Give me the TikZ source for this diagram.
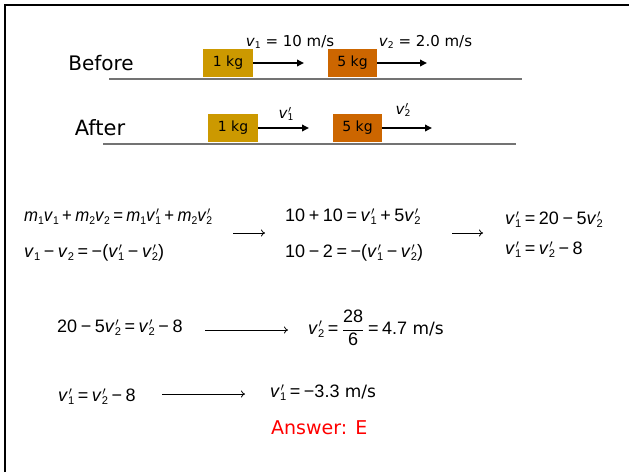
\documentclass[tikz,border=0pt]{standalone}
\usepackage{fontspec}
\setmainfont{DejaVu Sans}
\newfontfamily\eqfont{Liberation Sans}
\usetikzlibrary{arrows.meta}
\definecolor{goldbox}{RGB}{204,153,0}
\definecolor{orangebox}{RGB}{204,102,0}
\definecolor{floorgray}{RGB}{115,115,115}
\makeatletter
\newcommand{\subs}[1]{\raisebox{-0.32ex}{\dimen0=\f@size pt\dimen0=0.62\dimen0
  \fontsize{\strip@pt\dimen0}{\strip@pt\dimen0}\selectfont #1}}
\makeatother
\newcommand{\sv}[2]{\textit{#1}\subs{#2}}
\newcommand{\pv}[2]{\textit{#1}\rlap{\kern0.6pt$^{\prime}$}\subs{#2}}
\newcommand{\Pl}{\hspace{0.2em}+\hspace{0.2em}}
\newcommand{\Mi}{\hspace{0.2em}−\hspace{0.2em}}
\newcommand{\Eq}{\hspace{0.2em}=\hspace{0.2em}}
\newcommand{\unitms}{{\normalfont\fontsize{17}{20}\selectfont\ m/s}}
\begin{document}
\begin{tikzpicture}[x=1pt,y=-1pt,
  mass/.style={draw=none, minimum height=28pt, inner sep=0pt, font=\fontsize{14}{16}\selectfont},
  lbl/.style={inner sep=0pt, font=\fontsize{20}{24}\selectfont},
  vlab/.style={inner sep=0pt, font=\fontsize{15}{18}\selectfont},
  eqn/.style={anchor=west, inner sep=0pt, font=\eqfont\fontsize{18}{21}\selectfont},
  move/.style={line width=2pt, -{Triangle[length=7pt,width=6.5pt]}},
  implies/.style={line width=0.8pt, -{To[length=4pt,width=7pt]}},
  floor/.style={floorgray, line width=1.6pt}]
\useasboundingbox (0,0) rectangle (629,472);
\fill[white] (0,0) rectangle (629,472);
\draw[line width=2pt] (5,472) -- (5,5) -- (629,5);

% Before
\node[lbl] (before) at (101,63) {Before};
\draw[floor] (109,79) -- (522,79);
\node[mass, fill=goldbox, minimum width=50pt] (m1b) at (228,63) {1 kg};
\node[mass, fill=orangebox, minimum width=49pt] (m2b) at (352.5,63) {5 kg};
\coordinate (t1b) at (304,63);
\coordinate (t2b) at (427,63);
\draw[move] (m1b.east) -- (t1b);
\draw[move] (m2b.east) -- (t2b);
\node[vlab] (v1b) at (290,42) {\sv{v}{1} = 10 m/s};
\node[vlab] (v2b) at (425.5,42) {\sv{v}{2} = 2.0 m/s};

% After
\node[lbl, font=\fontsize{21}{25}\selectfont] (after) at (100,128) {After};
\draw[floor] (103,144) -- (516,144);
\node[mass, fill=goldbox, minimum width=50pt] (m1a) at (233,128) {1 kg};
\node[mass, fill=orangebox, minimum width=49pt] (m2a) at (357.5,128) {5 kg};
\coordinate (t1a) at (309,128);
\coordinate (t2a) at (432,128);
\draw[move] (m1a.east) -- (t1a);
\draw[move] (m2a.east) -- (t2a);
\node[vlab] (v1a) at (286,114) {\pv{v}{1}};
\node[vlab] (v2a) at (403,110) {\pv{v}{2}};

% Equations block 1
\node[eqn] (eqa1) at (24,217) {\scalebox{0.93}[1]{\sv{m}{1}\sv{v}{1}\Pl\sv{m}{2}\sv{v}{2}\Eq\sv{m}{1}\pv{v}{1}\Pl\sv{m}{2}\pv{v}{2}}};
\node[eqn] (eqa2) at (24,253) {\sv{v}{1}\Mi\sv{v}{2}\Eq−(\pv{v}{1}\Mi\pv{v}{2})};
\coordinate (ia1) at (233,233);
\coordinate (ib1) at (265,233);
\draw[implies] (ia1) -- (ib1);
\node[eqn] (eqb1) at (285,217) {10\Pl10\Eq\pv{v}{1}\Pl5\pv{v}{2}};
\node[eqn] (eqb2) at (285,253) {10\Mi2\Eq−(\pv{v}{1}\Mi\pv{v}{2})};
\coordinate (ia2) at (452,233);
\coordinate (ib2) at (483,233);
\draw[implies] (ia2) -- (ib2);
\node[eqn] (eqc1) at (505,220) {\pv{v}{1}\Eq20\Mi5\pv{v}{2}};
\node[eqn] (eqc2) at (505,250) {\pv{v}{1}\Eq\pv{v}{2}\Mi8};

% Equations block 2
\node[eqn] (eqd) at (57,328) {20\Mi5\pv{v}{2}\Eq\pv{v}{2}\Mi8};
\coordinate (ia3) at (205,330);
\coordinate (ib3) at (288,330);
\draw[implies] (ia3) -- (ib3);
\node[eqn] (eqe) at (308,328) {\pv{v}{2}\Eq$\displaystyle\frac{\mbox{28}}{\mbox{6}}$\Eq4.7\unitms};

% Equations block 3
\node[eqn] (eqf) at (58,397) {\pv{v}{1}\Eq\pv{v}{2}\Mi8};
\coordinate (ia4) at (162,394);
\coordinate (ib4) at (245,394);
\draw[implies] (ia4) -- (ib4);
\node[eqn] (eqg) at (270,393) {\pv{v}{1}\Eq−3.3\unitms};
\node[anchor=west, inner sep=0pt, text=red, font=\fontsize{19}{23}\selectfont] (answer) at (271,428) {Answer: E};
\end{tikzpicture}
\end{document}
